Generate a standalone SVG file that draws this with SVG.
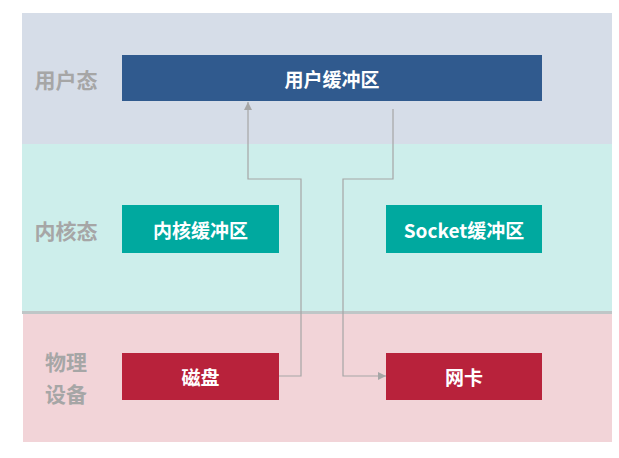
<svg xmlns="http://www.w3.org/2000/svg" width="619" height="458" viewBox="0 0 619 458">
<defs>
<style>
.lbl{font-family:"Noto Sans CJK SC","Microsoft YaHei",sans-serif;font-weight:bold;font-size:21px;fill:#a6a6a6;text-anchor:middle;dominant-baseline:central}
.bt{font-family:"Noto Sans CJK SC","Microsoft YaHei",sans-serif;font-weight:bold;font-size:19px;fill:#ffffff;text-anchor:middle;dominant-baseline:central}
.conn{fill:none;stroke:#a6a6a6;stroke-width:1.2}
</style>
<marker id="arr" viewBox="0 0 10 10" refX="10" refY="5" markerWidth="8" markerHeight="8" markerUnits="userSpaceOnUse" orient="auto">
<path d="M0,0 L10,5 L0,10 z" fill="#a6a6a6"/>
</marker>
</defs>
<rect width="619" height="458" fill="#ffffff"/>
<g id="bands">
<rect x="22" y="13" width="590" height="131" fill="#d6dde8"/>
<rect x="22" y="144" width="590" height="168" fill="#cdeeeb"/>
<rect x="22" y="311" width="590" height="3" fill="#bfc6c7"/>
<rect x="23" y="314" width="589" height="128" fill="#f2d4d8"/>
<text class="lbl" x="66" y="79">用户态</text>
<text class="lbl" x="66" y="230">内核态</text>
<text class="lbl" x="66" y="361">物理</text>
<text class="lbl" x="66" y="393">设备</text>
</g>
<g id="user-buffer">
<rect x="122" y="55" width="420" height="46" fill="#305a8e"/>
<text class="bt" x="332" y="78">用户缓冲区</text>
</g>
<g id="kernel-buffer">
<rect x="122" y="205" width="157" height="48" fill="#00a99f"/>
<text class="bt" x="200.5" y="229">内核缓冲区</text>
</g>
<g id="socket-buffer">
<rect x="386" y="205" width="156" height="48" fill="#00a99f"/>
<text class="bt" x="464" y="229">Socket缓冲区</text>
</g>
<g id="disk">
<rect x="122" y="353" width="157" height="47" fill="#b8223b"/>
<text class="bt" x="200.5" y="376">磁盘</text>
</g>
<g id="nic">
<rect x="386" y="353" width="156" height="47" fill="#b8223b"/>
<text class="bt" x="464" y="376">网卡</text>
</g>
<g id="connectors">
<polyline class="conn" points="279,376 301,376 301,179 248,179 248,102" marker-end="url(#arr)"/>
<polyline class="conn" points="393,109 393,179 343,179 343,376 386,376" marker-end="url(#arr)"/>
</g>
</svg>
